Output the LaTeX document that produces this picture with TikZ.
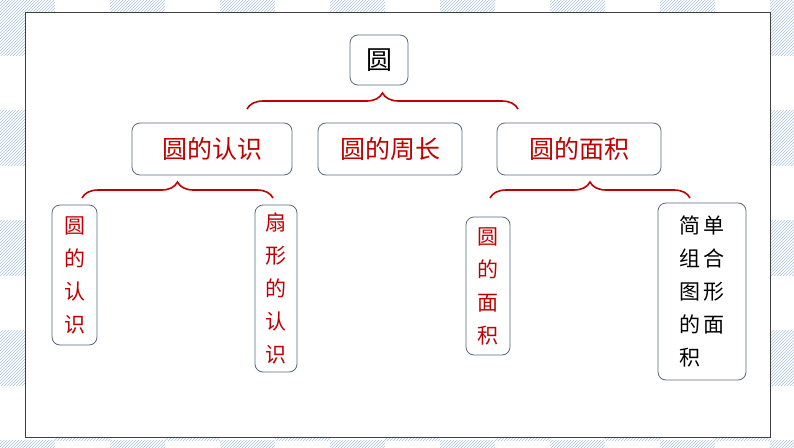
\documentclass[tikz,border=0pt]{standalone}
\usepackage{fontspec}
\setmainfont{Noto Sans CJK SC}
\usetikzlibrary{patterns,decorations.pathreplacing}
\definecolor{bred}{RGB}{192,0,0}
\definecolor{hat}{RGB}{170,196,226}
\definecolor{bx}{RGB}{90,105,130}
\tikzset{
  box/.style={draw=bx,line width=0.8pt,rounded corners=8pt,fill=white,inner sep=0pt},
  brc/.style={draw=bred,line width=1.6pt,decorate,decoration={brace,amplitude=16pt}},
}
\begin{document}
\begin{tikzpicture}[x=1pt,y=-1pt]
\useasboundingbox (0,0) rectangle (794,447);
\foreach \i in {0,...,14}{\foreach \j in {0,...,8}{
  \pgfmathparse{int(mod(\i+\j,2))}
  \ifnum\pgfmathresult=0
   \fill[pattern=north east lines,pattern color=hat] (\i*55,\j*55) rectangle ++(55,55);
  \fi}}
\draw[fill=white,draw=black!75,line width=0.8pt] (25,12) rectangle (770,437);
\node[box,minimum width=58,minimum height=50,font=\fontsize{26}{26}\selectfont] (r) at (379,60) {圆};
\node[box,minimum width=160,minimum height=52,text=bred,font=\fontsize{25}{25}\selectfont] (a) at (212,149) {圆的认识};
\node[box,minimum width=144,minimum height=52,text=bred,font=\fontsize{25}{25}\selectfont] (b) at (390,149) {圆的周长};
\node[box,minimum width=164,minimum height=52,text=bred,font=\fontsize{25}{25}\selectfont] (c) at (579,149) {圆的面积};
\draw[brc] (247,109) -- (518,109);
\draw[brc] (82,198) -- (273,198);
\draw[brc] (490,198) -- (690,198);
\node[box,minimum width=45,minimum height=140,text=bred,font=\fontsize{21}{33}\selectfont,align=center] (a1) at (74.5,275) {圆\\的\\认\\识};
\node[box,minimum width=42,minimum height=167,text=bred,font=\fontsize{21}{33}\selectfont,align=center] (a2) at (276,288.5) {扇\\形\\的\\认\\识};
\node[box,minimum width=44,minimum height=138,text=bred,font=\fontsize{21}{33}\selectfont,align=center] (c1) at (488,286) {圆\\的\\面\\积};
\node[box,minimum width=88,minimum height=177,font=\fontsize{21}{33}\selectfont,align=left] (c2) at (702,291.5) {简\,单\\组\,合\\图\,形\\的\,面\\积};
\end{tikzpicture}
\end{document}
